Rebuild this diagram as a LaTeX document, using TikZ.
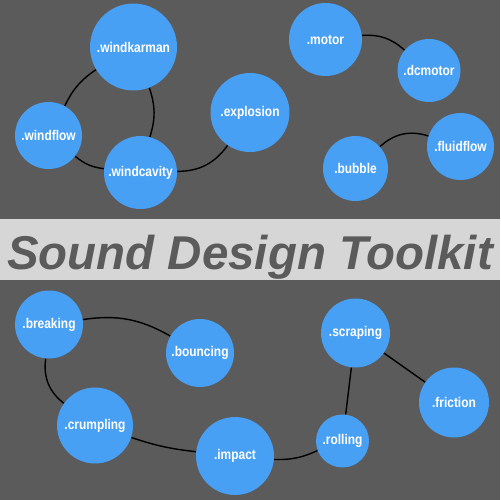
\documentclass[tikz,border=0pt]{standalone}
\usepackage{fontspec}
\setmainfont{Liberation Sans}
\newfontfamily\labelfont[FakeStretch=0.85]{Liberation Sans}
\usepackage{tikz}

\definecolor{sdtgray}{RGB}{91,91,91}
\definecolor{sdtlight}{RGB}{214,214,214}
\definecolor{sdtblue}{RGB}{72,160,245}

\begin{document}
\begin{tikzpicture}[x=0.02cm, y=-0.02cm,
    tool/.style={circle, fill=sdtblue, inner sep=0pt, minimum size=#1,
                 text=white, font={\labelfont\bfseries\fontsize{8}{9}\selectfont}},
    link/.style={draw=black, line width=0.8pt}]
    % background and title band
    \fill[sdtgray] (0,0) rectangle (500,500);
    \fill[sdtlight] (0,219) rectangle (500,280);
    \node[anchor=base, inner sep=0pt, text=sdtgray,
          font={\bfseries\itshape\fontsize{27}{30}\selectfont}] (title) at (250,269) {Sound Design Toolkit};
    % tools
    \foreach \n/\x/\y/\d in {windkarman/133.5/47/1.74, windflow/48.5/135.5/1.34,
        windcavity/140.5/172.5/1.46, explosion/250/112.5/1.58, motor/325.5/39.5/1.46,
        dcmotor/429/70.5/1.26, bubble/355.5/168.5/1.30, fluidflow/460.5/146.5/1.34,
        breaking/49/324.5/1.36, bouncing/200/353/1.36, crumpling/95/425.5/1.52,
        impact/235/456/1.56, scraping/355.5/333/1.38, friction/454/402.5/1.40,
        rolling/342.5/441/1.06} {
      \node[tool=\d cm] (\n) at (\x,\y) {.\n};
    }
    % links
    \foreach \a/\b/\bnd in {windkarman/windflow/-15, windkarman/windcavity/18,
        windflow/windcavity/-16, windcavity/explosion/-27, motor/dcmotor/23,
        bubble/fluidflow/30, breaking/bouncing/19, breaking/crumpling/-30,
        crumpling/impact/-6, impact/rolling/-13, rolling/scraping/0, scraping/friction/0} {
      \draw[link] (\a) to[bend left=\bnd] (\b);
    }
\end{tikzpicture}
\end{document}
